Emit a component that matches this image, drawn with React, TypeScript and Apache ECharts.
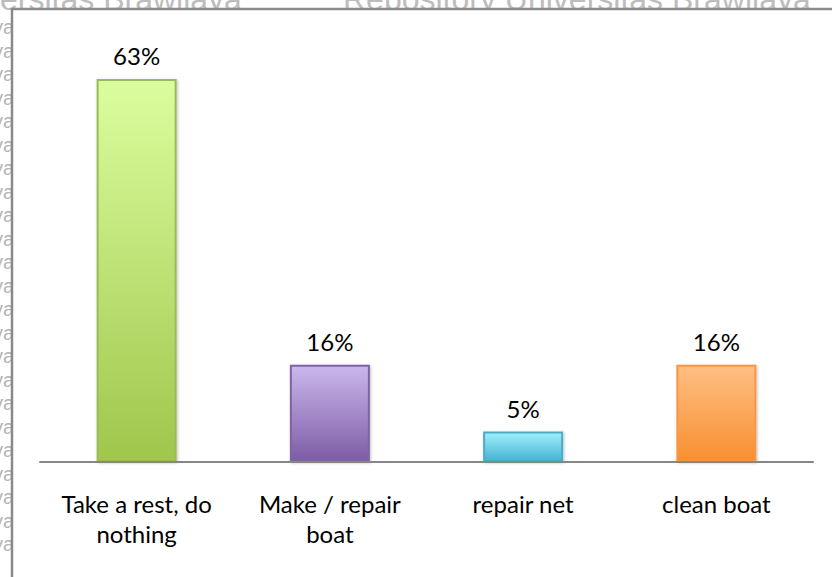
import React, { useEffect, useRef } from "react";
import * as echarts from "echarts";

const categories = ["Take a rest, do\nnothing", "Make / repair\nboat", "repair net", "clean boat"];
const values = [63, 16, 5, 16];
const valueLabels = ["63%", "16%", "5%", "16%"];
const topColors = ["#dcfd9e", "#cbb8ec", "#a0effd", "#ffbf84"];
const bottomColors = ["#a0c64c", "#7d5ca6", "#44b3d1", "#f78f2f"];
const borderColors = ["#9bbb59", "#8064a2", "#4bacc6", "#f79646"];

export default function App() {
  const ref = useRef<HTMLDivElement>(null);
  useEffect(() => {
    document.body.style.margin = "0";
    const chart = echarts.init(ref.current!, undefined, { renderer: "svg" });
    const leftMarks: any[] = [];
    for (let i = 0; i < 23; i++) {
      leftMarks.push({
        type: "text",
        x: 14,
        y: 27 + i * 23.5,
        z: 1,
        style: {
          text: "ya",
          fill: "#b5b5b5",
          font: "20px 'Liberation Sans', Arial, sans-serif",
          align: "right",
          verticalAlign: "middle",
        },
      });
    }
    chart.setOption({
      animation: false,
      backgroundColor: "#ffffff",
      graphic: [
        ...leftMarks,
        {
          type: "text",
          x: -64,
          y: 15,
          z: 1,
          style: {
            text: "Universitas Brawijaya",
            fill: "#bdbdbd",
            font: "32px 'Liberation Sans', Arial, sans-serif",
            align: "left",
            verticalAlign: "bottom",
          },
        },
        {
          type: "text",
          x: 343,
          y: 15,
          z: 1,
          style: {
            text: "Repository Universitas Brawijaya",
            fill: "#bdbdbd",
            font: "32px 'Liberation Sans', Arial, sans-serif",
            align: "left",
            verticalAlign: "bottom",
          },
        },
        {
          type: "rect",
          z: 2,
          shape: { x: 12, y: 9, width: 830, height: 580 },
          style: { fill: "#ffffff" },
        },
        {
          type: "line",
          z: 3,
          shape: { x1: 11, y1: 9, x2: 840, y2: 9 },
          style: { stroke: "#8a8a8a", lineWidth: 2.5 },
        },
        {
          type: "line",
          z: 3,
          shape: { x1: 12, y1: 8, x2: 12, y2: 590 },
          style: { stroke: "#8a8a8a", lineWidth: 2.5 },
        },
      ],
      grid: { left: 40, right: 19, top: 36.4, bottom: 115 },
      xAxis: {
        type: "category",
        data: categories,
        z: 10,
        axisLine: { lineStyle: { color: "#868686", width: 2 } },
        axisTick: { show: false },
        axisLabel: {
          color: "#000000",
          fontFamily: "Lato, 'Open Sans', sans-serif",
          fontSize: 24,
          lineHeight: 30,
          margin: 26,
          interval: 0,
        },
      },
      yAxis: {
        type: "value",
        min: 0,
        max: 70,
        show: false,
        splitLine: { show: false },
      },
      series: [
        {
          type: "bar",
          z: 5,
          barWidth: 80,
          data: values.map((v, i) => ({
            value: v,
            itemStyle: {
              color: new echarts.graphic.LinearGradient(0, 0, 0, 1, [
                { offset: 0, color: topColors[i] },
                { offset: 1, color: bottomColors[i] },
              ]),
              borderColor: borderColors[i],
              borderWidth: 2,
              shadowBlur: 3,
              shadowColor: "rgba(0,0,0,0.25)",
              shadowOffsetX: 1,
              shadowOffsetY: 1,
            },
            label: {
              show: true,
              position: "top",
              distance: 11,
              formatter: valueLabels[i],
              color: "#000000",
              fontFamily: "Lato, 'Open Sans', sans-serif",
              fontSize: 24,
            },
          })),
        },
      ],
    });
    return () => chart.dispose();
  }, []);
  return <div ref={ref} style={{ width: 832, height: 577 }} />;
}
